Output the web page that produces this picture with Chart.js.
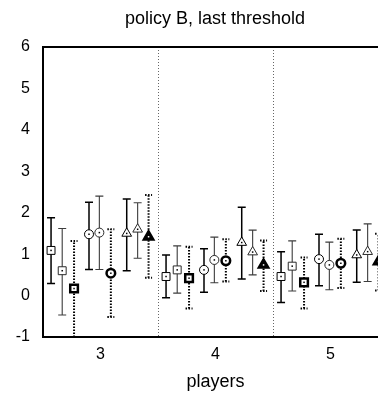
<!DOCTYPE html>
<html><head><meta charset="utf-8">
<script src="https://cdn.jsdelivr.net/npm/chart.js@4/dist/chart.umd.min.js"></script>
<style>html,body{margin:0;padding:0;overflow:hidden;background:#fff;width:378px;height:396px}</style>
</head><body>
<canvas id="c" width="430" height="396" style="width:430px;height:396px;display:block"></canvas>
<script>
// ---- data ----
const categories = [3, 4, 5];
const dividerValues = [3.5, 4.5];
const yTickValues = [-1, 0, 1, 2, 3, 4, 5, 6];
const titleText = 'policy B, last threshold';
const xTitleText = 'players';

// square series
const meanSqA = [1.09, 0.46, 0.46];
const loSqA   = [0.29, -0.05, -0.17];
const hiSqA   = [1.88, 0.98, 1.06];
const meanSqB = [0.60, 0.62, 0.71];
const loSqB   = [-0.47, 0.06, 0.11];
const hiSqB   = [1.62, 1.20, 1.32];
const meanSqC = [0.17, 0.42, 0.32];
const loSqC   = [-1.00, -0.31, -0.31];
const hiSqC   = [1.32, 1.18, 0.92];
// circle series
const meanCiA = [1.48, 0.62, 0.88];
const loCiA   = [0.63, 0.08, 0.24];
const hiCiA   = [2.25, 1.13, 1.48];
const meanCiB = [1.52, 0.86, 0.74];
const loCiB   = [0.63, 0.31, 0.14];
const hiCiB   = [2.40, 1.41, 1.29];
const meanCiC = [0.54, 0.84, 0.78];
const loCiC   = [-0.52, 0.34, 0.18];
const hiCiC   = [1.60, 1.36, 1.37];
// triangle series
const meanTrA = [1.50, 1.28, 0.98];
const loTrA   = [0.60, 0.40, 0.32];
const hiTrA   = [2.33, 2.13, 1.58];
const meanTrB = [1.60, 1.05, 1.06];
const loTrB   = [0.90, 0.50, 0.34];
const hiTrB   = [2.24, 1.58, 1.73];
const meanTrC = [1.42, 0.74, 0.82];
const loTrC   = [0.43, 0.11, 0.12];
const hiTrC   = [2.43, 1.33, 1.49];

// ---- styles ----
const STY = {
  solid: {bar:'#000', barW:1.5, dash:[], cap:4, mark:'#000', markW:1},
  grey:  {bar:'#3c3c3c', barW:1.1, dash:[], cap:4, mark:'#2a2a2a', markW:1},
  dot:   {bar:'#000', barW:2, dash:[1.5,1.5], cap:3.5, mark:'#000', markW:2.5}
};
const seriesDefs = [
  {mean:meanSqA, lo:loSqA, hi:hiSqA, shape:'rect', r:5.6, sty:'solid', off:-0.43, fill:false},
  {mean:meanSqB, lo:loSqB, hi:hiSqB, shape:'rect', r:5.6, sty:'grey', off:-0.333, fill:false},
  {mean:meanSqC, lo:loSqC, hi:hiSqC, shape:'rect', r:5.4, sty:'dot', off:-0.23, fill:false},
  {mean:meanCiA, lo:loCiA, hi:hiCiA, shape:'circle', r:4.5, sty:'solid', off:-0.10, fill:false},
  {mean:meanCiB, lo:loCiB, hi:hiCiB, shape:'circle', r:4.5, sty:'grey', off:-0.01, fill:false},
  {mean:meanCiC, lo:loCiC, hi:hiCiC, shape:'circle', r:4.3, sty:'dot', off:0.09, fill:false},
  {mean:meanTrA, lo:loTrA, hi:hiTrA, shape:'triangle', r:5.6, sty:'solid', off:0.228, fill:false},
  {mean:meanTrB, lo:loTrB, hi:hiTrB, shape:'triangle', r:5.6, sty:'grey', off:0.323, fill:false},
  {mean:meanTrC, lo:loTrC, hi:hiTrC, shape:'triangle', r:5.4, sty:'dot', off:0.418, fill:true}
];

const FONT = "'Liberation Sans', Arial, sans-serif";

const datasets = seriesDefs.map((s) => {
  const st = STY[s.sty];
  return {
    data: categories.map((c, j) => ({x: c + s.off, y: s.mean[j]})),
    pointStyle: s.shape,
    pointRadius: s.r,
    pointBorderWidth: st.markW,
    pointBorderColor: st.mark,
    pointBackgroundColor: s.fill ? '#000' : '#fff',
    showLine: false
  };
});

const decorPlugin = {
  id: 'decor',
  beforeDatasetsDraw(chart) {
    const {ctx, chartArea: a, scales: {x, y}} = chart;
    ctx.save();
    ctx.beginPath();
    ctx.rect(a.left, a.top, a.right - a.left, a.bottom - a.top);
    ctx.clip();
    ctx.strokeStyle = '#666';
    ctx.lineWidth = 1;
    ctx.setLineDash([1, 2]);
    dividerValues.forEach(v => {
      const px = Math.round(x.getPixelForValue(v)) + 0.5;
      ctx.beginPath(); ctx.moveTo(px, a.top); ctx.lineTo(px, a.bottom); ctx.stroke();
    });
    seriesDefs.forEach((s) => {
      const st = STY[s.sty];
      ctx.strokeStyle = st.bar;
      ctx.lineWidth = st.barW;
      ctx.setLineDash(st.dash);
      categories.forEach((c, j) => {
        const px = x.getPixelForValue(c + s.off);
        const yl = y.getPixelForValue(s.lo[j]);
        const yh = y.getPixelForValue(s.hi[j]);
        ctx.beginPath();
        ctx.moveTo(px, yl); ctx.lineTo(px, yh);
        ctx.moveTo(px - st.cap, yl); ctx.lineTo(px + st.cap, yl);
        ctx.moveTo(px - st.cap, yh); ctx.lineTo(px + st.cap, yh);
        ctx.stroke();
      });
    });
    ctx.restore();
  },
  afterDatasetsDraw(chart) {
    const {ctx, chartArea: a, scales: {x, y}} = chart;
    ctx.save();
    ctx.beginPath();
    ctx.rect(a.left, a.top, a.right - a.left, a.bottom - a.top);
    ctx.clip();
    seriesDefs.forEach((s) => {
      ctx.fillStyle = s.fill ? '#fff' : '#000';
      categories.forEach((c, j) => {
        const px = x.getPixelForValue(c + s.off);
        const py = y.getPixelForValue(s.mean[j]);
        ctx.fillRect(px - 0.75, py - 0.75, 1.5, 1.5);
      });
    });
    ctx.restore();
    ctx.save();
    ctx.strokeStyle = '#000';
    ctx.lineWidth = 2;
    ctx.beginPath();
    ctx.moveTo(a.left - 1, a.top); ctx.lineTo(a.right, a.top);
    ctx.stroke();
    ctx.restore();
  }
};

new Chart(document.getElementById('c'), {
  type: 'scatter',
  data: {datasets},
  plugins: [decorPlugin],
  options: {
    responsive: false,
    animation: false,
    events: [],
    layout: {padding: 0},
    plugins: {
      legend: {display: false},
      tooltip: {enabled: false},
      title: {
        display: true, text: titleText, color: '#000',
        font: {family: FONT, size: 18, weight: 'normal', lineHeight: 1.2},
        padding: {top: 8.5, bottom: 16.9}
      }
    },
    scales: {
      x: {
        type: 'linear', min: 2.5, max: 5.5,
        afterBuildTicks: (sc) => { sc.ticks = categories.map(v => ({value: v})); },
        afterFit: (sc) => { sc.height = 59; },
        grid: {display: false, drawTicks: false},
        border: {display: true, color: '#000', width: 2},
        ticks: {color: '#000', padding: 8, font: {family: FONT, size: 16}, maxRotation: 0},
        title: {display: true, text: xTitleText, color: '#000',
                font: {family: FONT, size: 18, lineHeight: 1.2}, padding: {top: 2, bottom: 3}}
      },
      y: {
        type: 'linear', min: -1, max: 6,
        afterBuildTicks: (sc) => { sc.ticks = yTickValues.map(v => ({value: v})); },
        afterFit: (sc) => { sc.width = 43; },
        grid: {display: false, drawTicks: false},
        border: {display: true, color: '#000', width: 2},
        ticks: {color: '#000', padding: 13, font: {family: FONT, size: 16}}
      },
      yRight: {
        type: 'linear', position: 'right', display: true,
        afterFit: (sc) => { sc.width = 42; },
        grid: {display: false, drawTicks: false},
        border: {display: false},
        ticks: {display: false}
      }
    }
  }
});
</script>
</body></html>
